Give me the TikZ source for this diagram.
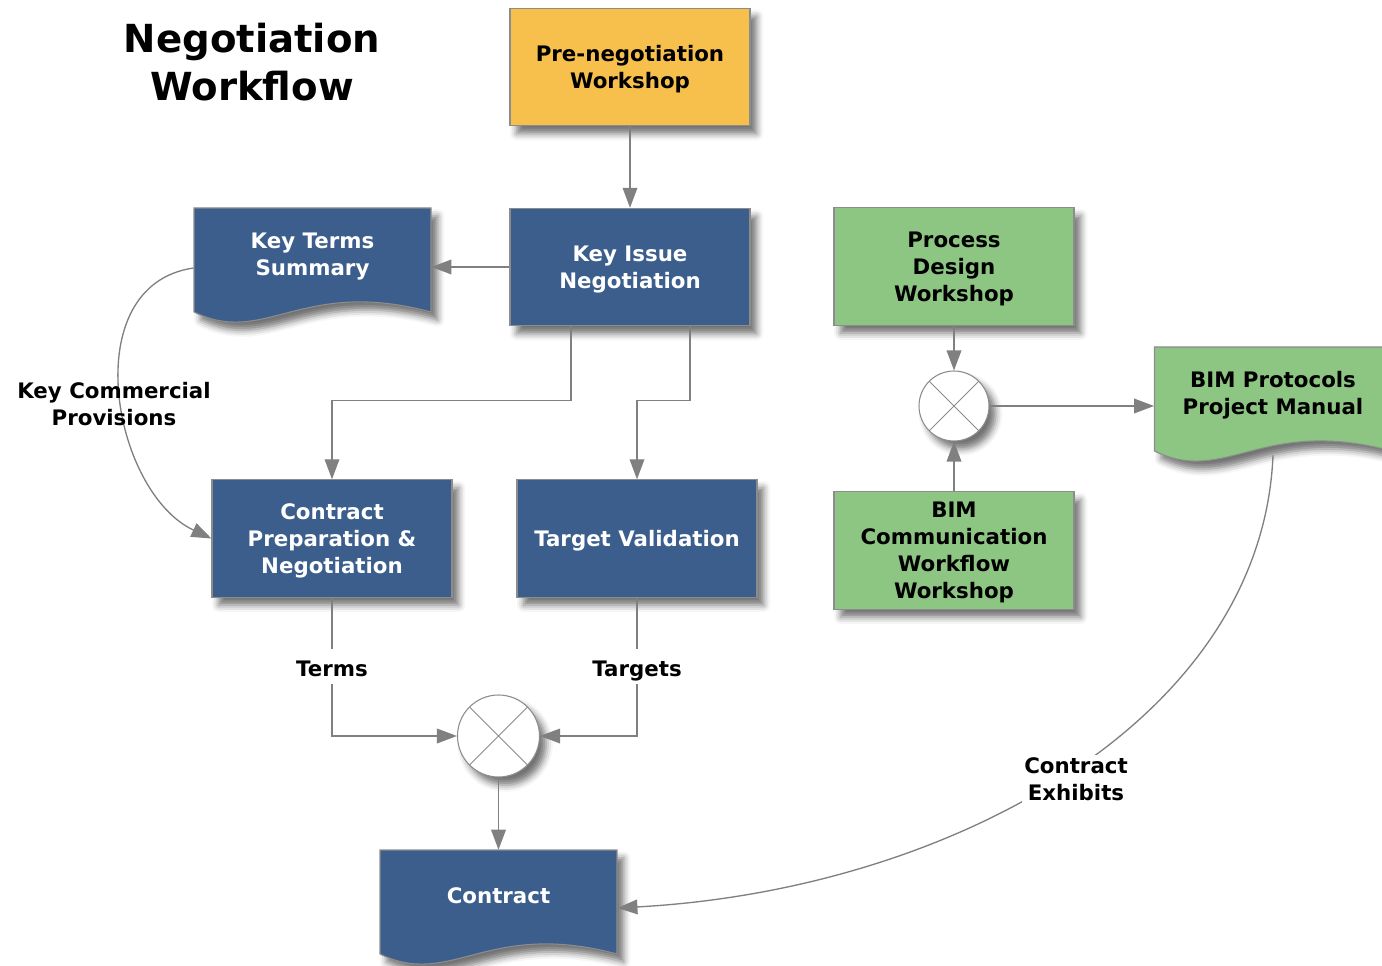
\documentclass[tikz,border=0pt]{standalone}
\usepackage{fontspec}
\setmainfont{DejaVu Sans}
\usetikzlibrary{arrows.meta,shadows.blur,calc}

\definecolor{flowblue}{HTML}{3C5E8C}
\definecolor{workshop}{HTML}{F7BF4B}
\definecolor{design}{HTML}{8DC583}
\definecolor{edgegray}{HTML}{808080}
\definecolor{rimgray}{HTML}{8C8C8C}

\tikzset{
  every node/.style={font=\bfseries\fontsize{16}{20.25}\selectfont, align=center},
  % a shallower last line lowers the text a little in its box
  lowtext/.style={text depth=-2pt},
  softshadow/.style={blur shadow={shadow xshift=5pt, shadow yshift=-6pt,
      shadow blur radius=5pt, shadow opacity=55}},
  stepbox/.style={rectangle, draw=rimgray, line width=0.8pt,
      minimum width=180pt, minimum height=88pt, inner sep=2pt, lowtext, softshadow},
  bluebox/.style={stepbox, fill=flowblue, text=white},
  yellowbox/.style={stepbox, fill=workshop, text=black},
  greenbox/.style={stepbox, fill=design, text=black},
  docbody/.style={rectangle, minimum width=178pt, minimum height=69pt,
      inner sep=2pt, lowtext},
  docedge/.style={draw=rimgray, line width=0.8pt, softshadow},
  crossjoin/.style={circle, draw=rimgray, fill=white, line width=0.8pt,
      inner sep=0pt, softshadow,
      path picture={\draw[rimgray, line width=0.6pt]
        (path picture bounding box.north east) -- (path picture bounding box.south west)
        (path picture bounding box.north west) -- (path picture bounding box.south east);}},
  conn/.style={draw=edgegray, line width=1pt, -{Triangle[length=15pt,width=11pt]}},
  tagtext/.style={text=black, inner sep=1.5pt,
      execute at begin node={\rule{0pt}{19.2pt}},
      execute at end node={\rule[-4pt]{0pt}{4pt}}},
  lbl/.style={tagtext, fill=white},
  longtag/.style={text=black, inner sep=1.5pt},
}

% document shape with a wavy bottom; #1,#2 = centre of its text area, #3 = fill
\newcommand\docshape[3]{%
  \path[docedge, fill=#3]
    ($(#1,#2)+(-118.5,-46)$) -- ($(#1,#2)+(118.5,-46)$) -- ($(#1,#2)+(118.5,58)$)
    .. controls ($(#1,#2)+(-11.5,23)$) and ($(#1,#2)+(-47.5,93)$)
    .. ($(#1,#2)+(-118.5,58)$) -- cycle;}

\begin{document}
\begin{tikzpicture}[x=0.75pt, y=-0.75pt]
\useasboundingbox (0,0) rectangle (1382,966);
\clip (0,0) rectangle (1382,966);

% title
\node[text=black, font=\bfseries\fontsize{29}{36}\selectfont] (title) at (252,62)
  {Negotiation\\Workflow};

% negotiation stream
\node[yellowbox] (pre) at (630,67) {Pre-negotiation\\Workshop};
\node[bluebox] (issue) at (630,267) {Key Issue\\Negotiation};
\docshape{312.5}{254}{flowblue}
\node[docbody, text=white] (terms) at (312.5,254) {Key Terms\\Summary};
\node[bluebox] (prep) at (332,538.5) {Contract\\Preparation \&\\Negotiation};
\node[bluebox, text depth=-5pt] (target) at (637,538.5) {Target Validation};
\node[crossjoin, minimum size=61.5pt] (merge) at (498.5,736) {};
\docshape{498.5}{896}{flowblue}
\node[docbody, text=white, text depth=-5pt] (contract) at (498.5,896) {Contract};

% BIM stream
\node[greenbox] (process) at (954,266.5) {Process\\Design\\Workshop};
\node[crossjoin, minimum size=52.5pt] (bimjoin) at (954,406) {};
\node[greenbox] (comm) at (954,550.5) {BIM\\Communication\\Workflow\\Workshop};
\docshape{1273}{393}{design}
\node[docbody, text=black] (bim) at (1273,393) {BIM Protocols\\Project Manual};

% connectors
\draw[conn] (pre) -- (issue);
\draw[conn] (issue.west) -- (issue.west -| terms.east);
\draw[conn] ([xshift=-44.25pt]issue.south) -- ++(0,74) -| (prep.north);
\draw[conn] ([xshift=45pt]issue.south) -- ++(0,74) -| (target.north);
\draw[conn] ([yshift=-10.5pt]terms.west)
  .. controls (75,285) and (112,492) .. (prep.west);
\node[longtag] (kcp) at (114,404) {Key Commercial\\Provisions};
\draw[conn] (prep.south) |- node[lbl, pos=0.25] {Terms} (merge.west);
\draw[conn] (target.south) |- node[lbl, pos=0.25] {Targets} (merge.east);
\draw[conn] (merge) -- (contract.north);

\draw[conn] (process) -- (bimjoin);
\draw[conn] (comm) -- (bimjoin);
\draw[conn] (bimjoin.east) -- (bimjoin.east -| bim.west);
\draw[conn] ([yshift=-12pt]bim.south)
  .. controls (1262,720) and (950,890) .. ([yshift=-9pt]contract.east);
\node[longtag, fill=white] (exhibits) at (1076,779) {Contract\\Exhibits};
\end{tikzpicture}
\end{document}
